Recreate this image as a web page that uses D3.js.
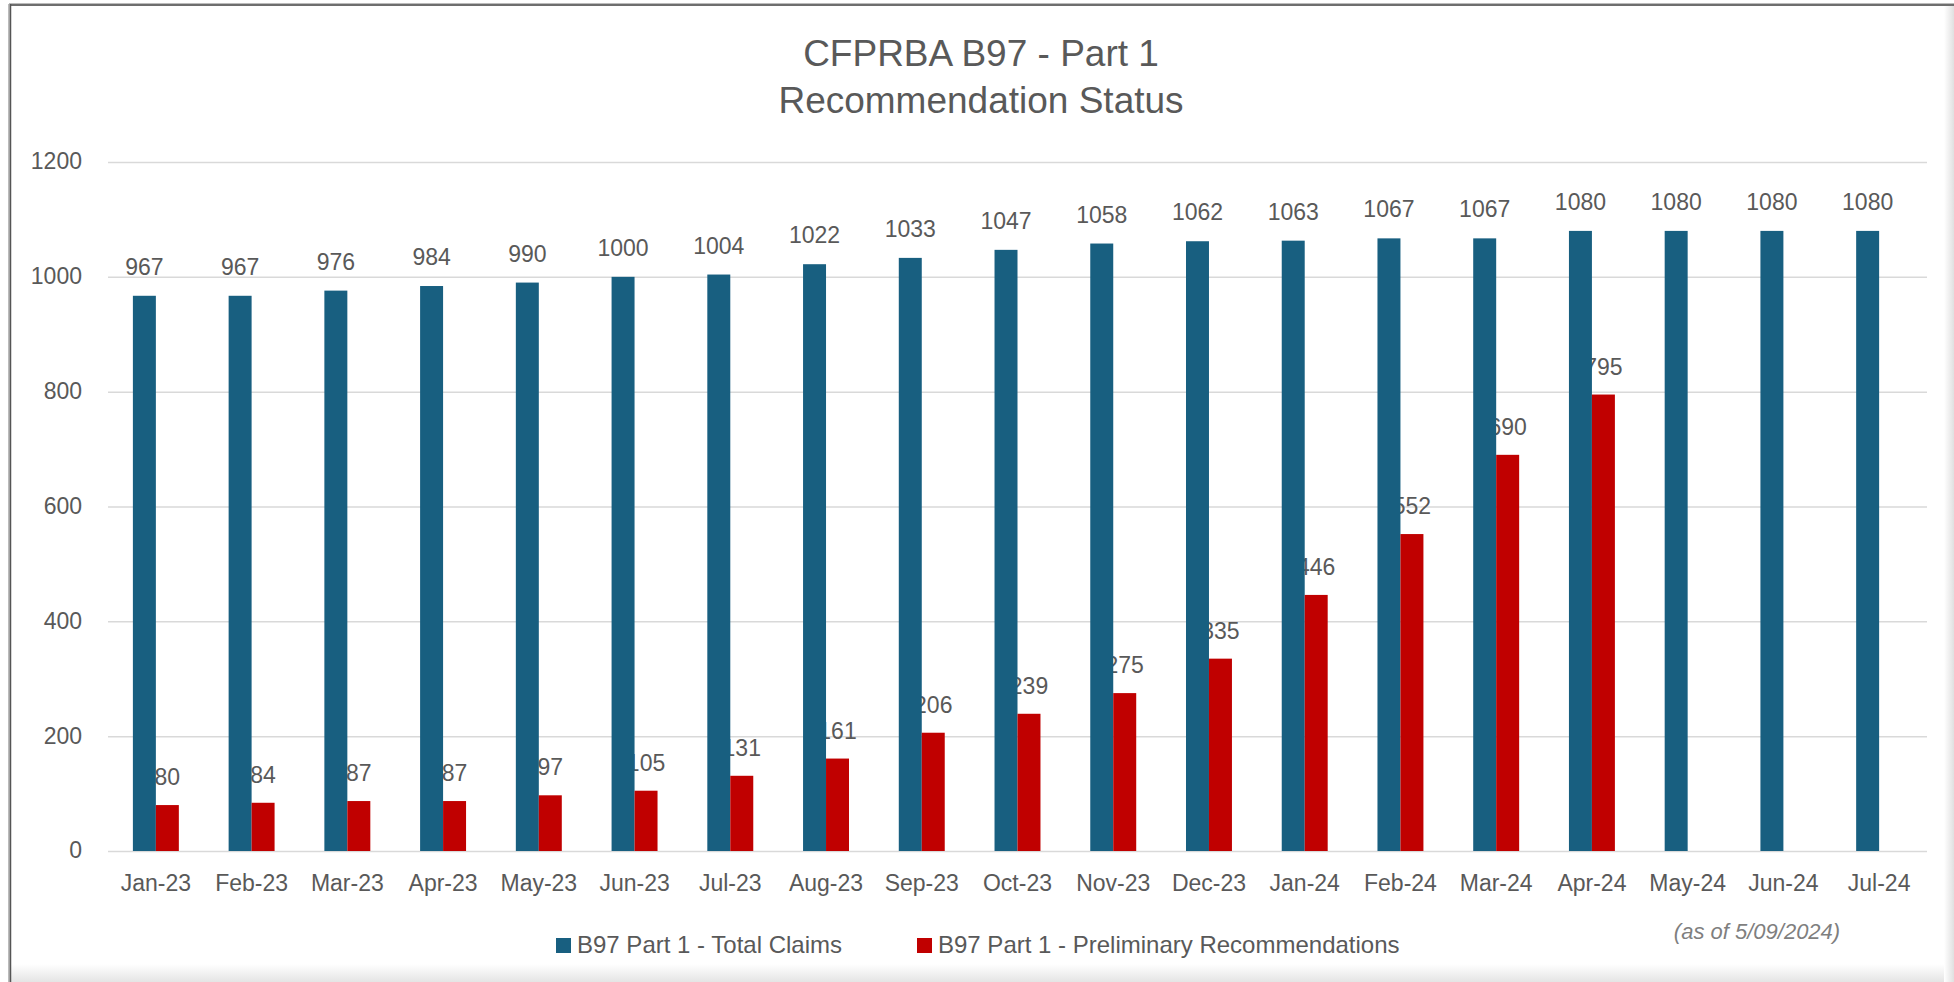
<!DOCTYPE html>
<html>
<head>
<meta charset="utf-8">
<script src="https://cdn.jsdelivr.net/npm/d3@7"></script>
<style>
  body { margin: 0; background: #fff; }
  svg { display: block; font-family: "Liberation Sans", Arial, sans-serif; }
</style>
</head>
<body>
<svg id="chart"></svg>
<script>
let months = ["Jan-23", "Feb-23", "Mar-23", "Apr-23", "May-23", "Jun-23", "Jul-23", "Aug-23",
  "Sep-23", "Oct-23", "Nov-23", "Dec-23", "Jan-24", "Feb-24", "Mar-24", "Apr-24",
  "May-24", "Jun-24", "Jul-24"];
let totalClaims = [967, 967, 976, 984, 990, 1000, 1004, 1022, 1033, 1047, 1058, 1062,
  1063, 1067, 1067, 1080, 1080, 1080, 1080];
// preliminary recs stop at Apr-24
let prelimRecs = [80, 84, 87, 87, 97, 105, 131, 161, 206, 239, 275, 335, 446, 552, 690, 795];
let yTicks = [0, 200, 400, 600, 800, 1000, 1200];
let seriesNames = ["B97 Part 1 - Total Claims", "B97 Part 1 - Preliminary Recommendations"];

let width = 1954;
let height = 982;
let textColor = "#595959";
let colors = ["#185f80", "#c00000"];

let svg = d3.select("#chart").attr("width", width).attr("height", height);

// frame + soft shading on right/bottom edges
let grad = svg.append("defs");
let gb = grad.append("linearGradient").attr("id", "shadeB").attr("x1", 0).attr("y1", 0).attr("x2", 0).attr("y2", 1);
gb.append("stop").attr("offset", 0).attr("stop-color", "#fff");
gb.append("stop").attr("offset", 1).attr("stop-color", "#e4e4e4");
let gr = grad.append("linearGradient").attr("id", "shadeR").attr("x1", 0).attr("y1", 0).attr("x2", 1).attr("y2", 0);
gr.append("stop").attr("offset", 0).attr("stop-color", "#fff");
gr.append("stop").attr("offset", 1).attr("stop-color", "#e0e0e0");

svg.append("rect").attr("x", 10).attr("y", 964).attr("width", width - 10).attr("height", 18).attr("fill", "url(#shadeB)");
svg.append("rect").attr("x", 1944).attr("y", 6).attr("width", 10).attr("height", height - 6).attr("fill", "url(#shadeR)");
svg.append("line").attr("x1", 9).attr("x2", width).attr("y1", 4.5).attr("y2", 4.5)
  .attr("stroke", "#bbb").attr("stroke-width", 3);
svg.append("line").attr("x1", 9).attr("x2", width).attr("y1", 5).attr("y2", 5)
  .attr("stroke", "#555").attr("stroke-width", 1.5);
svg.append("line").attr("x1", 9.5).attr("x2", 9.5).attr("y1", 4).attr("y2", height)
  .attr("stroke", "#bbb").attr("stroke-width", 3);
svg.append("line").attr("x1", 10.5).attr("x2", 10.5).attr("y1", 4).attr("y2", height)
  .attr("stroke", "#555").attr("stroke-width", 1.5);

// title
let title = svg.append("text").attr("x", 981).attr("text-anchor", "middle")
  .attr("fill", textColor).style("font-size", "37px");
title.append("tspan").attr("x", 981).attr("y", 66).text("CFPRBA B97 - Part 1");
title.append("tspan").attr("x", 981).attr("y", 113).text("Recommendation Status");

// scales
let x = d3.scaleBand().domain(months).range([108, 1927]).paddingInner(0.52).paddingOuter(0.26);
let x1 = d3.scaleBand().domain([0, 1]).range([0, x.bandwidth()]);
let y = d3.scaleLinear().domain([0, 1200]).range([851, 162]);

// gridlines + y labels
let yAxis = svg.append("g").attr("transform", "translate(108,0)")
  .call(d3.axisLeft(y).tickValues(yTicks).tickFormat(d3.format("d"))
    .tickSize(-(1927 - 108)).tickPadding(26));
yAxis.select(".domain").remove();
yAxis.selectAll(".tick line").attr("stroke", "#d9d9d9").attr("stroke-width", 1.5);
yAxis.selectAll(".tick text").attr("fill", textColor).style("font-size", "23px")
  .style("font-family", "Liberation Sans, Arial, sans-serif").attr("dy", "0.3em");

// x labels
let xAxis = svg.append("g").attr("transform", "translate(0,851)")
  .call(d3.axisBottom(x).tickSize(0).tickPadding(24));
xAxis.select(".domain").remove();
xAxis.selectAll(".tick text").attr("fill", textColor).style("font-size", "23px")
  .style("font-family", "Liberation Sans, Arial, sans-serif");

let totalData = months.map((m, i) => ({ m: m, v: totalClaims[i] }));
let prelimData = prelimRecs.map((v, i) => ({ m: months[i], v: v }));

// red labels go under the blue bars (as in the source chart)
svg.selectAll(".lblPrelim")
  .data(prelimData)
  .enter()
  .append("text")
  .attr("class", "lblPrelim")
  .attr("x", (d) => x(d.m) + x1(1) + x1.bandwidth() / 2)
  .attr("y", (d) => y(d.v) - 20)
  .attr("text-anchor", "middle")
  .attr("fill", textColor)
  .style("font-size", "23px")
  .text((d) => d.v);

svg.selectAll(".barTotal")
  .data(totalData)
  .enter()
  .append("rect")
  .attr("class", "barTotal")
  .attr("x", (d) => x(d.m) + x1(0))
  .attr("y", (d) => y(d.v))
  .attr("width", x1.bandwidth())
  .attr("height", (d) => y(0) - y(d.v))
  .attr("fill", colors[0]);

svg.selectAll(".barPrelim")
  .data(prelimData)
  .enter()
  .append("rect")
  .attr("class", "barPrelim")
  .attr("x", (d) => x(d.m) + x1(1))
  .attr("y", (d) => y(d.v))
  .attr("width", x1.bandwidth())
  .attr("height", (d) => y(0) - y(d.v))
  .attr("fill", colors[1]);

svg.selectAll(".lblTotal")
  .data(totalData)
  .enter()
  .append("text")
  .attr("class", "lblTotal")
  .attr("x", (d) => x(d.m) + x1(0) + x1.bandwidth() / 2)
  .attr("y", (d) => y(d.v) - 21)
  .attr("text-anchor", "middle")
  .attr("fill", textColor)
  .style("font-size", "23px")
  .text((d) => d.v);

// legend
let legendX = [556, 917];
seriesNames.forEach((name, i) => {
  svg.append("rect").attr("x", legendX[i]).attr("y", 938).attr("width", 15).attr("height", 15)
    .attr("fill", colors[i]);
  svg.append("text").attr("x", legendX[i] + 21).attr("y", 953)
    .attr("fill", textColor).style("font-size", "24px").text(name);
});

// note
svg.append("text").attr("x", 1757).attr("y", 939).attr("text-anchor", "middle")
  .attr("fill", "#7f7f7f").style("font-size", "22px").style("font-style", "italic")
  .text("(as of 5/09/2024)");
</script>
</body>
</html>
